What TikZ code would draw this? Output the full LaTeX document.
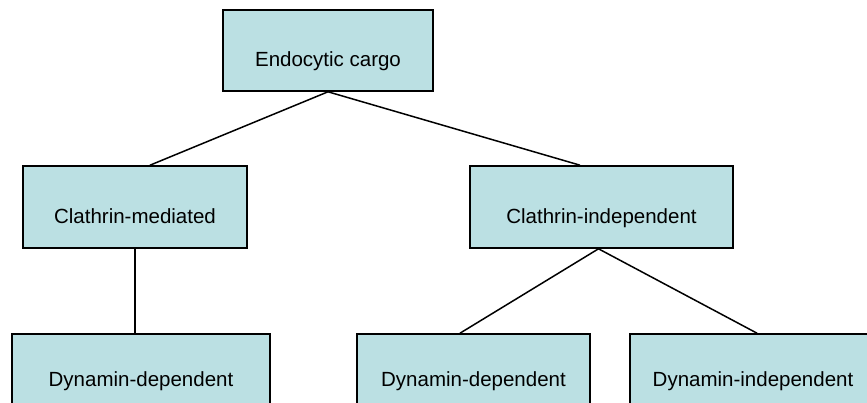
\documentclass[tikz,border=0pt]{standalone}
\usepackage{fontspec}
\setmainfont{Liberation Sans}
\definecolor{boxfill}{HTML}{BBE0E3}
\tikzset{
  orgbox/.style={draw,line width=1.6pt,fill=boxfill,inner sep=0pt,
    text height=33pt,text depth=0pt,font=\fontsize{20.5}{24}\selectfont},
  link/.style={line width=1.5pt}
}
\begin{document}
\begin{tikzpicture}[x=1pt,y=-1pt]
  \clip (0,0) rectangle (867,403);
  % levels
  \node[orgbox,minimum width=210pt,minimum height=81pt] (cargo) at (328,50.5) {Endocytic cargo};
  \node[orgbox,minimum width=224pt,minimum height=82pt] (cm) at (135,207) {Clathrin-mediated};
  \node[orgbox,minimum width=263pt,minimum height=82pt] (ci) at (601.5,207) {Clathrin-independent};
  \node[orgbox,minimum width=258pt,minimum height=72pt] (dd1) at (141,370) {Dynamin-dependent};
  \node[orgbox,minimum width=233pt,minimum height=72pt] (dd2) at (473.5,370) {Dynamin-dependent};
  \node[orgbox,minimum width=246pt,minimum height=72pt] (di) at (753,370) {Dynamin-independent};
  % connectors
  \draw[link] (cargo.south) -- ([xshift=15pt]cm.north);
  \draw[link] (cargo.south) -- ([xshift=-21.5pt]ci.north);
  \draw[link] (cm.south) -- (cm.south |- dd1.north);
  \draw[link] ([xshift=-3pt]ci.south) -- ([xshift=-13.5pt]dd2.north);
  \draw[link] ([xshift=-3pt]ci.south) -- ([xshift=4pt]di.north);
\end{tikzpicture}
\end{document}
